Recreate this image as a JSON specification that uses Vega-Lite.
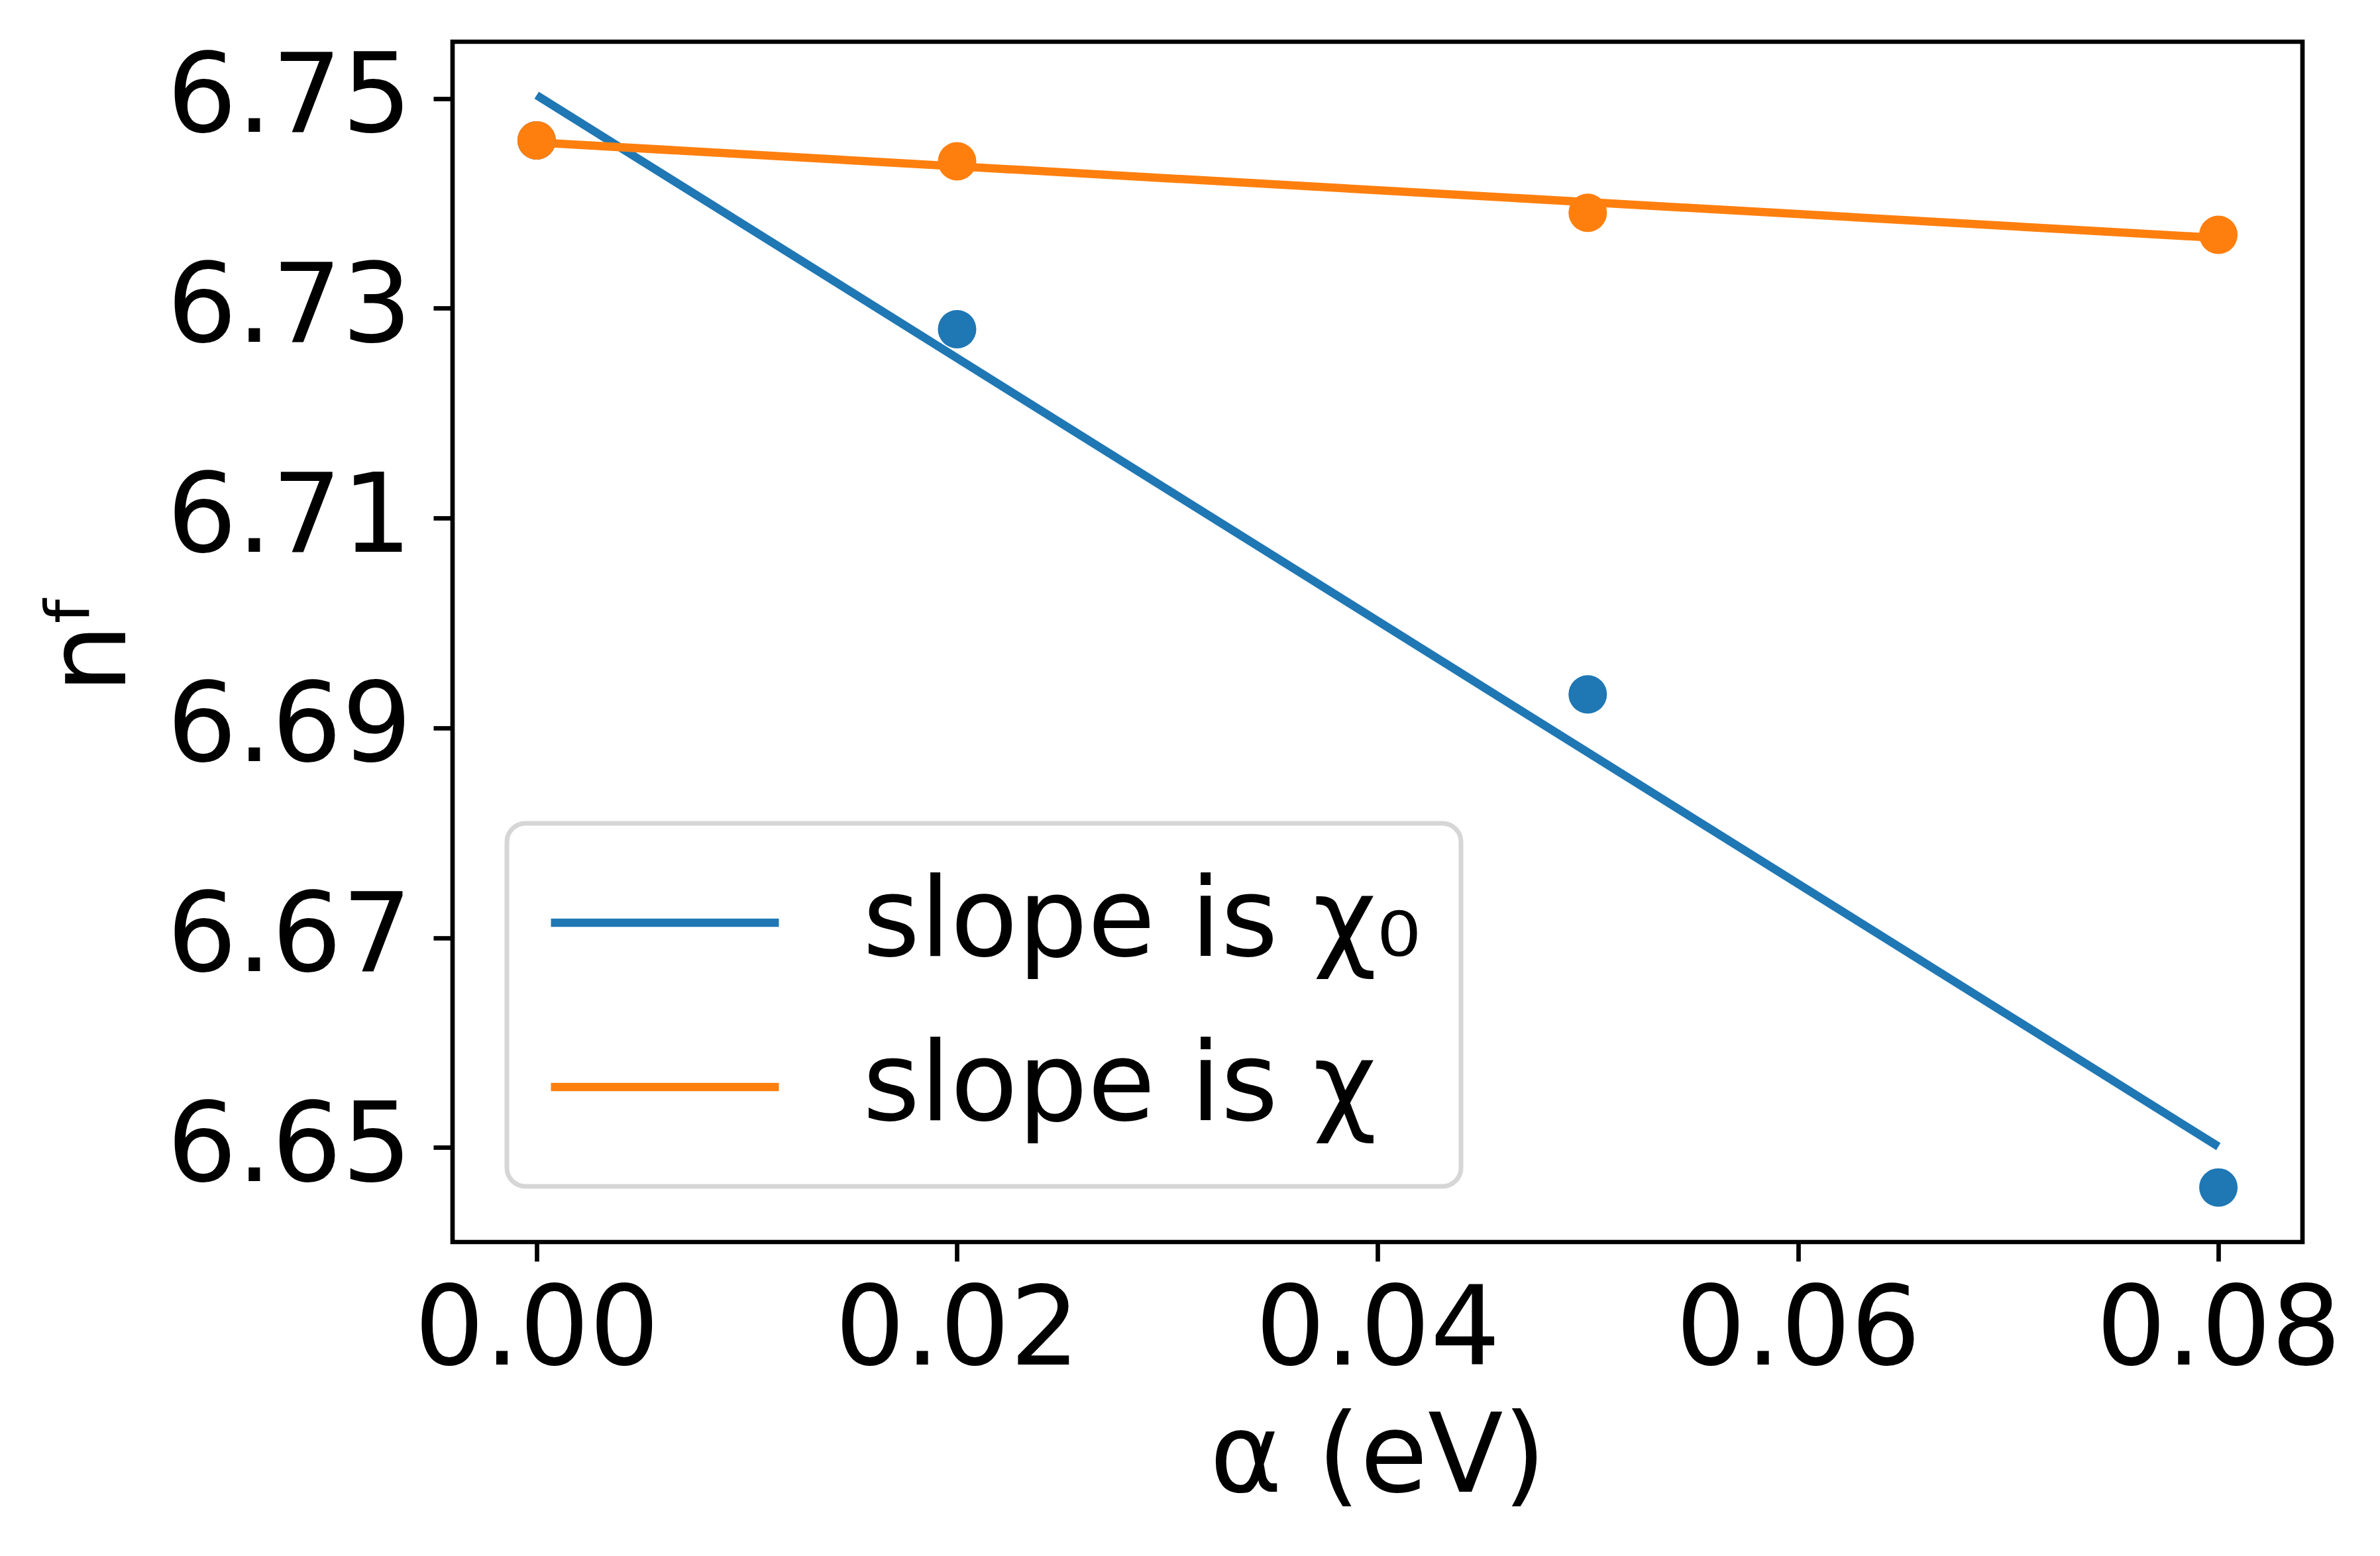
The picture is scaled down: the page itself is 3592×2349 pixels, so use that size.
{
  "$schema": "https://vega.github.io/schema/vega-lite/v6.json",
  "width": 2792,
  "height": 1812,
  "autosize": {"type": "none"},
  "padding": {"left": 683, "top": 63, "right": 117, "bottom": 474},
  "background": "white",
  "datasets": {
    "lines": [
      {"alpha": 0.0, "nf": 6.7503, "series": "slope is χ₀"},
      {"alpha": 0.08, "nf": 6.6501, "series": "slope is χ₀"},
      {"alpha": 0.0, "nf": 6.7458, "series": "slope is χ"},
      {"alpha": 0.08, "nf": 6.7367, "series": "slope is χ"}
    ],
    "points": [
      {"alpha": 0.0, "nf": 6.746, "series": "slope is χ₀"},
      {"alpha": 0.02, "nf": 6.728, "series": "slope is χ₀"},
      {"alpha": 0.05, "nf": 6.6932, "series": "slope is χ₀"},
      {"alpha": 0.08, "nf": 6.6462, "series": "slope is χ₀"},
      {"alpha": 0.0, "nf": 6.746, "series": "slope is χ"},
      {"alpha": 0.02, "nf": 6.744, "series": "slope is χ"},
      {"alpha": 0.05, "nf": 6.7391, "series": "slope is χ"},
      {"alpha": 0.08, "nf": 6.737, "series": "slope is χ"}
    ]
  },
  "encoding": {
    "x": {
      "field": "alpha",
      "type": "quantitative",
      "title": "α (eV)",
      "scale": {"domain": [-0.004, 0.084], "nice": false, "zero": false},
      "axis": {"values": [0, 0.02, 0.04, 0.06, 0.08], "format": ".2f", "labelPadding": 24, "titlePadding": 45}
    },
    "y": {
      "field": "nf",
      "type": "quantitative",
      "title": "nᶠ",
      "scale": {"domain": [6.641, 6.7554], "nice": false, "zero": false},
      "axis": {
        "values": [6.65, 6.67, 6.69, 6.71, 6.73, 6.75],
        "format": ".2f",
        "labelPadding": 33,
        "titleAngle": -90,
        "titleX": -495,
        "titleY": 906,
        "titleAlign": "center",
        "titleBaseline": "alphabetic"
      }
    }
  },
  "layer": [
    {
      "data": {"name": "lines"},
      "mark": {"type": "line", "strokeWidth": 12.5},
      "encoding": {
        "color": {
          "field": "series",
          "type": "nominal",
          "scale": {"domain": ["slope is χ₀", "slope is χ"], "range": ["#1f77b4", "#ff7f0e"]},
          "legend": {
            "title": null,
            "orient": "none",
            "legendX": 82,
            "legendY": 1180,
            "symbolType": "stroke",
            "symbolSize": 118336,
            "symbolStrokeWidth": 12.5,
            "clipHeight": 180,
            "rowPadding": 68,
            "labelOffset": 120,
            "padding": 60,
            "labelFontSize": 166,
            "labelFont": "DejaVu Sans",
            "labelColor": "black",
            "labelLimit": 2000,
            "strokeColor": "#d6d6d6",
            "cornerRadius": 28,
            "fillColor": "white"
          }
        }
      }
    },
    {
      "data": {"name": "points"},
      "mark": {"type": "point", "filled": true, "opacity": 1, "size": 3364, "shape": "circle"},
      "encoding": {
        "fill": {
          "field": "series",
          "type": "nominal",
          "scale": {"domain": ["slope is χ₀", "slope is χ"], "range": ["#1f77b4", "#ff7f0e"]},
          "legend": null
        }
      }
    }
  ],
  "config": {
    "font": "DejaVu Sans",
    "view": {"stroke": "black", "strokeWidth": 6.7},
    "legend": {"strokeWidth": 7},
    "axis": {
      "grid": false,
      "domain": false,
      "ticks": true,
      "tickColor": "black",
      "tickWidth": 6.7,
      "tickSize": 29,
      "labelFont": "DejaVu Sans",
      "labelFontSize": 166,
      "labelColor": "black",
      "labelLimit": 2000,
      "labelFlush": false,
      "labelOverlap": false,
      "titleFont": "DejaVu Sans",
      "titleFontSize": 166,
      "titleFontWeight": "normal",
      "titleColor": "black",
      "titleLimit": 3000
    }
  }
}
